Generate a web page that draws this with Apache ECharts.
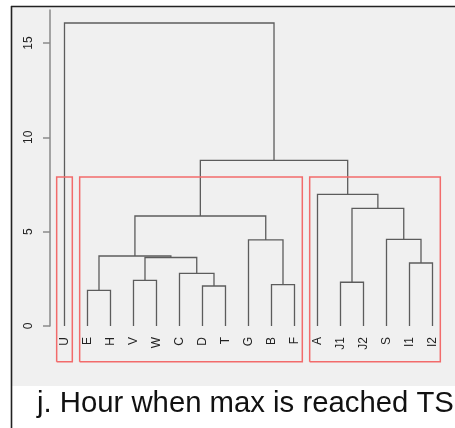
<!DOCTYPE html>
<html>
<head>
<meta charset="utf-8">
<style>
html,body{margin:0;padding:0;background:#fff;}
#chart{width:455px;height:428px;}
</style>
<script src="https://cdn.jsdelivr.net/npm/echarts@6/dist/echarts.min.js"></script>
</head>
<body>
<div id="chart"></div>
<script>
// ---- data ----
var leaves = ['U','E','H','V','W','C','D','T','G','B','F','A','J1','J2','S','I1','I2'];
// merges: [left child, right child, height]; children are leaf names or 'n<k>' for earlier merges
var merges = [
  ['E','H',1.89],      // n0
  ['D','T',2.12],      // n1
  ['B','F',2.19],      // n2
  ['J1','J2',2.32],    // n3
  ['V','W',2.42],      // n4
  ['C','n1',2.79],     // n5
  ['I1','I2',3.34],    // n6
  ['n4','n5',3.63],    // n7
  ['n0','n7',3.71],    // n8
  ['G','n2',4.56],     // n9
  ['S','n6',4.59],     // n10
  ['n8','n9',5.83],    // n11
  ['n3','n10',6.24],   // n12
  ['A','n12',6.98],    // n13
  ['n11','n13',8.78],  // n14
  ['U','n14',16.06]    // n15
];
var clusters = [['U','U'],['E','F'],['A','I2']];
var cutHeight = 7.9;
var rectBottom = -1.9;
var yTicks = [0,5,10,15];
var yMax = 16.75;
var caption = 'j. Hour when max is reached TS';

// ---- build dendrogram segments ----
var nodePos = {};
leaves.forEach(function(l,i){ nodePos[l] = {x:i, y:0}; });
var treeLines = [];
merges.forEach(function(m,k){
  var a = nodePos[m[0]], b = nodePos[m[1]], h = m[2];
  treeLines.push({coords:[[a.x,a.y],[a.x,h],[b.x,h],[b.x,b.y]]});
  nodePos['n'+k] = {x:(a.x+b.x)/2, y:h};
});
var pad = 0.34;
var rectLines = clusters.map(function(c){
  var x0 = leaves.indexOf(c[0]) - pad, x1 = leaves.indexOf(c[1]) + pad;
  return {coords:[[x0,rectBottom],[x0,cutHeight],[x1,cutHeight],[x1,rectBottom],[x0,rectBottom]]};
});
var leafIdx = leaves.map(function(l,i){ return i; });

var chart = echarts.init(document.getElementById('chart'), null, {renderer:'canvas'});
chart.setOption({
  backgroundColor:'#ffffff',
  animation:false,
  graphic:[
    {type:'rect', z:-10, shape:{x:12,y:7,width:443,height:379}, style:{fill:'#f0f0f0'}},
    {type:'line', z:-5, shape:{x1:11,y1:6.5,x2:455,y2:6.5}, style:{stroke:'#222',lineWidth:1.6}},
    {type:'line', z:-5, shape:{x1:11.5,y1:6,x2:11.5,y2:428}, style:{stroke:'#222',lineWidth:1.6}},
    {type:'text', left:37, top:389, style:{text:caption, font:'29.3px "Liberation Sans", Arial, sans-serif', fill:'#111'}}
  ],
  grid:{left:50, right:22.5, top:10, bottom:102, containLabel:false},
  xAxis:{
    type:'value', min:-0.63, max:leaves.length-1,
    axisLine:{show:false, onZero:false}, axisTick:{show:false}, splitLine:{show:false},
    axisLabel:{
      rotate:90, margin:11, fontSize:12, color:'#222',
      fontFamily:'"Liberation Sans", Arial, sans-serif',
      customValues:leafIdx,
      formatter:function(v){ return leaves[Math.round(v)] || ''; }
    }
  },
  yAxis:{
    type:'value', min:0, max:yMax,
    axisLine:{show:true, onZero:false, lineStyle:{color:'#8a8a8a', width:1.5}},
    axisTick:{show:true, length:7, lineStyle:{color:'#8a8a8a', width:1.5}, customValues:yTicks},
    splitLine:{show:false},
    axisLabel:{
      rotate:90, margin:15, fontSize:12, color:'#222',
      fontFamily:'"Liberation Sans", Arial, sans-serif',
      customValues:yTicks
    }
  },
  series:[
    {type:'lines', coordinateSystem:'cartesian2d', polyline:true, clip:false, silent:true,
     lineStyle:{color:'#5c5c5c', width:1.3, opacity:1}, data:treeLines},
    {type:'lines', coordinateSystem:'cartesian2d', polyline:true, clip:false, silent:true,
     lineStyle:{color:'#f26b6b', width:1.5, opacity:1}, data:rectLines}
  ]
});
</script>
</body>
</html>
